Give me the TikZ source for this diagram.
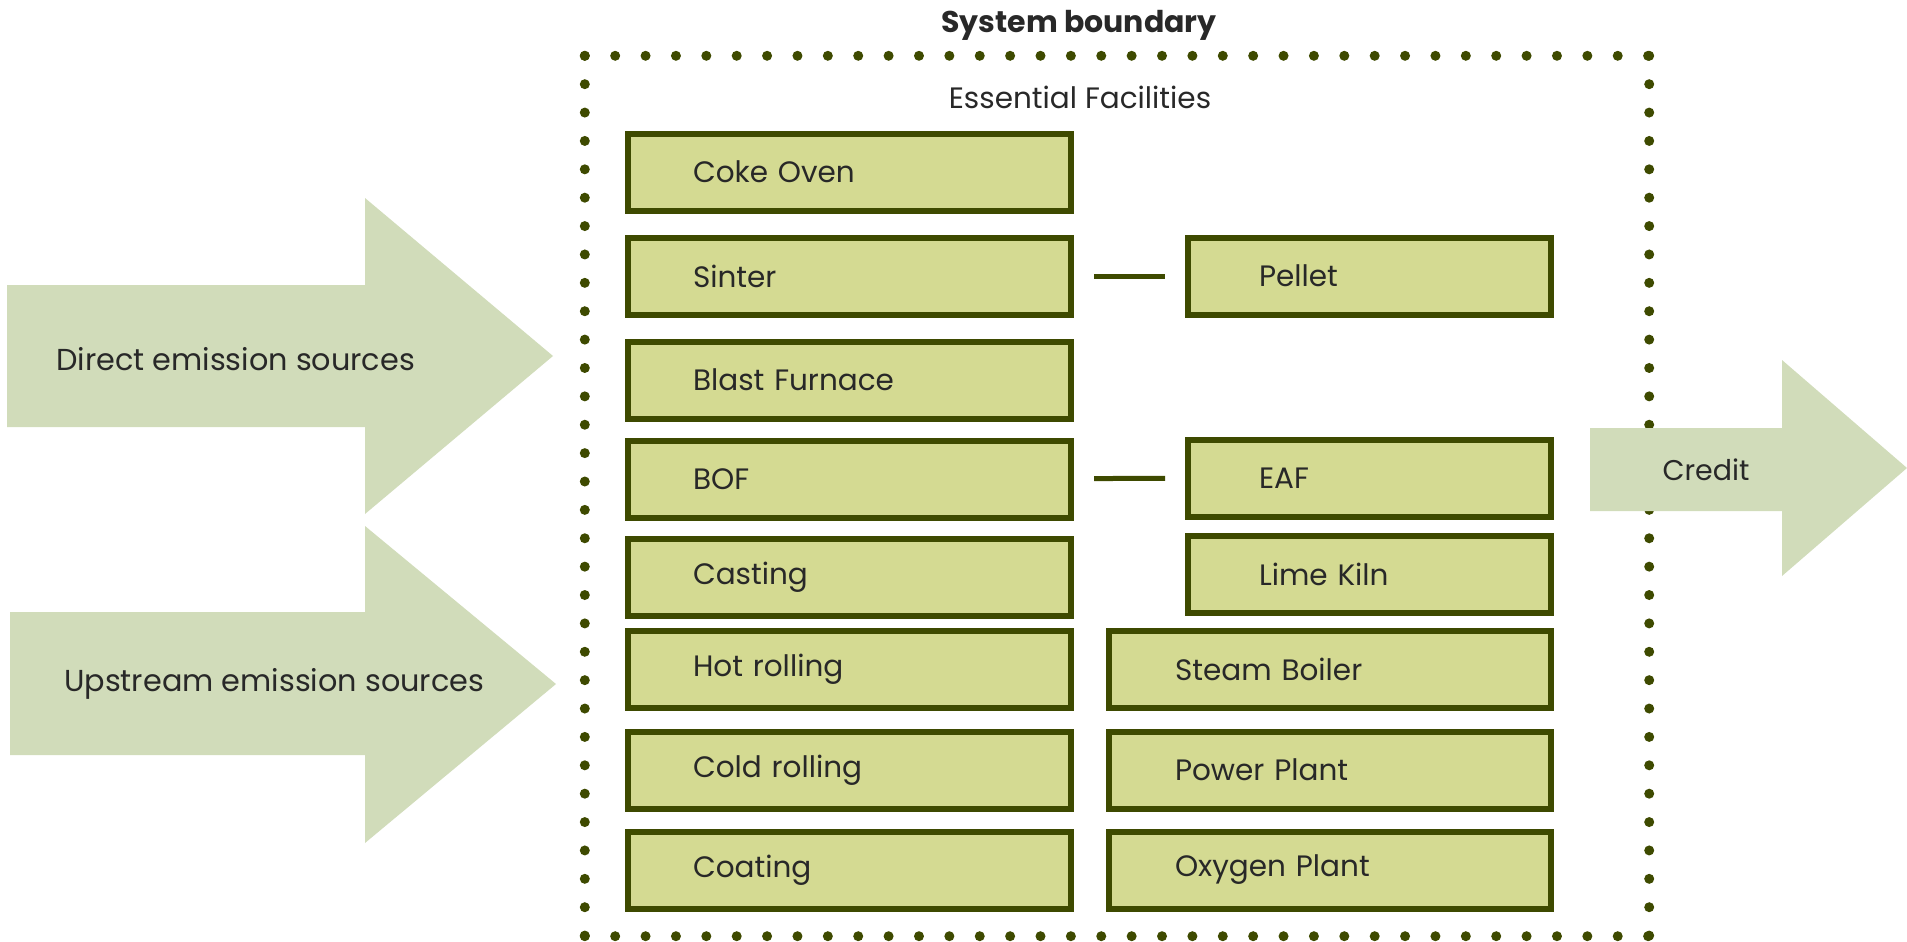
\documentclass[tikz,border=0pt]{standalone}
\usepackage{fontspec}
\setmainfont{Poppins}
\definecolor{boxfill}{RGB}{212,218,146}
\definecolor{boxline}{RGB}{62,74,0}
\definecolor{arrowfill}{RGB}{209,220,186}
\definecolor{ink}{RGB}{40,40,40}
\tikzset{
  fac/.style={draw=boxline, fill=boxfill, line width=6pt, minimum height=77pt,
    inner ysep=0pt, align=left, text=ink, font=\fontsize{29.5}{33}\selectfont},
  leftfac/.style={fac, text width=313pt, inner xsep=65pt},
  pairfac/.style={fac, text width=221pt, inner xsep=71pt},
  utilfac/.style={fac, text width=310pt, inner xsep=66pt},
  link/.style={draw=boxline, line width=5pt, shorten <=20pt, shorten >=20pt},
  dotrow/.style={draw=boxline, line width=10pt, line cap=round,
    dash pattern=on 0pt off 30.38pt},
  dotcol/.style={draw=boxline, line width=10pt, line cap=round,
    dash pattern=on 0pt off 28.38pt},
  flow/.style={fill=arrowfill},
  flowtext/.style={text=ink, font=\fontsize{30.3}{34}\selectfont, inner sep=0pt},
  heading/.style={text=ink, inner sep=0pt}
}
\begin{document}
\begin{tikzpicture}[x=1pt, y=-1pt]
\useasboundingbox (0,0) rectangle (1907,942);

% system boundary: dotted frame, drawn side by side for even spacing
\node[minimum width=1064pt, minimum height=880pt, inner sep=0pt] (boundary) at (1117,496) {};
\draw[dotrow] (boundary.north west) -- ([xshift=0.5pt]boundary.north east);
\draw[dotrow] (boundary.south west) -- ([xshift=0.5pt]boundary.south east);
\draw[dotcol] (boundary.north west) -- ([yshift=-0.5pt]boundary.south west);
\draw[dotcol] (boundary.north east) -- ([yshift=-0.5pt]boundary.south east);
\node[heading, font=\bfseries\fontsize{30}{34}\selectfont] (systitle) at (1079,25) {System boundary};
\node[heading, font=\fontsize{29.5}{33}\selectfont] (esstitle) at (1080,97) {Essential Facilities};

% emission flows
\fill[flow] (7,285) -- (365,285) -- (365,198) -- (553,356) -- (365,514) -- (365,427) -- (7,427) -- cycle;
\fill[flow] (10,612) -- (365,612) -- (365,526) -- (556,684) -- (365,843) -- (365,755) -- (10,755) -- cycle;
\fill[flow] (1590,428) -- (1782,428) -- (1782,360) -- (1907,468) -- (1782,576) -- (1782,511) -- (1590,511) -- cycle;
\node[flowtext, anchor=west] (direct) at (56,359) {Direct emission sources};
\node[flowtext, anchor=west] (upstream) at (64,684) {Upstream emission sources};
\node[flowtext, font=\fontsize{28.5}{32}\selectfont] (credit) at (1706,470) {Credit};

% main process chain
\node[leftfac] (coke)    at (849.5,172)   {Coke Oven};
\node[leftfac] (sinter)  at (849.5,276)   {Sinter};
\node[leftfac] (blast)   at (849.5,380)   {Blast Furnace};
\node[leftfac] (bof)     at (849.5,479)   {BOF};
\node[leftfac] (casting) at (849.5,577)   {Casting};
\node[leftfac] (hot)     at (849.5,669.5) {Hot rolling};
\node[leftfac] (cold)    at (849.5,770)   {Cold rolling};
\node[leftfac] (coating) at (849.5,870)   {Coating};

% alternative and auxiliary facilities
\node[pairfac] (pellet)  at (1369.5,276) {Pellet};
\node[pairfac] (eaf)     at (1369.5,478) {EAF};
\node[pairfac] (lime)    at (1369.5,574) {Lime Kiln};
\node[utilfac] (steam)   at (1330,669.5) {Steam Boiler};
\node[utilfac] (power)   at (1330,770)   {Power Plant};
\node[utilfac] (oxygen)  at (1330,870)   {Oxygen Plant};

% alternatives
\draw[link] (sinter) -- (pellet);
\draw[link] (bof) -- (eaf);
\end{tikzpicture}
\end{document}
